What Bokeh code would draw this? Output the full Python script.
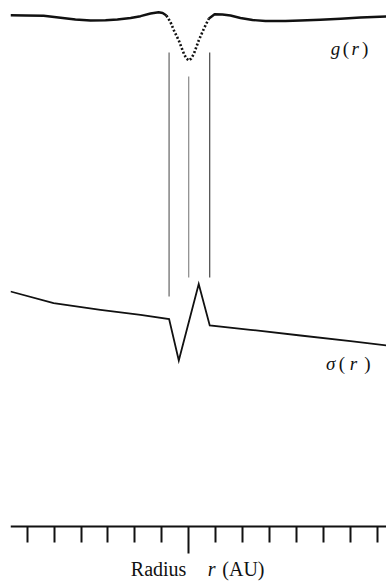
from bokeh.plotting import figure
from bokeh.models import Range1d, LinearAxis, FixedTicker, ColumnDataSource
from bokeh.core.properties import value
from bokeh.embed import file_html
from bokeh.resources import INLINE

# ---------------- data ----------------
# gap-opening function g(r)
r_g = [0.38, 0.94, 1.61, 2.24, 2.79, 3.35, 3.91, 4.35, 4.84, 5.21, 5.58, 5.88,
       6.03, 6.17, 6.32, 6.45, 6.63, 6.82, 6.91, 7.00, 7.09, 7.19, 7.37, 7.56,
       7.74, 7.96, 8.25, 8.55, 8.92, 9.37, 9.85, 10.59, 11.15, 11.89, 12.64,
       13.38, 14.35]
g_vals = [1.006, 1.000, 0.994, 0.954, 0.920, 0.900, 0.904, 0.920, 0.950, 0.986,
          1.040, 1.066, 1.050, 1.000, 0.870, 0.700, 0.500, 0.234, 0.140, 0.100,
          0.140, 0.234, 0.500, 0.734, 0.934, 1.024, 1.020, 1.000, 0.950, 0.910,
          0.890, 0.890, 0.900, 0.916, 0.934, 0.960, 0.980]

# surface density sigma(r)
r_sigma = [0.38, 1.98, 3.72, 5.21, 6.27, 6.63, 7.37, 7.78, 9.29, 11.15, 13.01, 14.35]
sigma_vals = [1.09, 0.973, 0.907, 0.857, 0.815, 0.40, 1.165, 0.75, 0.707, 0.65,
              0.593, 0.55]

# gap edge / planet markers
gap_r = [6.27, 7.00, 7.78]

# ticks on the radius axis
major_tick_r = [7]
minor_tick_r = [1, 2, 3, 4, 5, 6, 8, 9, 10, 11, 12, 13, 14]

# labels
x_label_parts = ["Radius", "r", "(AU)"]
g_label_parts = ["g", "(", "r", ")"]
s_label_parts = ["\u03c3", "(", "r", ")"]

# ---------------- figure ----------------
W, H = 386, 583
p = figure(width=W, height=H, output_backend="svg", toolbar_location=None,
           tools="", title=None, x_axis_type=None, y_axis_type=None,
           x_range=Range1d(0.3789, 14.345), y_range=Range1d(0, 583),
           min_border_left=10, min_border_right=0, min_border_top=0,
           min_border_bottom=0)
p.outline_line_color = None
p.background_fill_color = "white"
p.border_fill_color = "white"
p.extra_y_ranges = {"g": Range1d(-10.36, 1.3), "sigma": Range1d(-1.83, 4.0)}

INK = "#111111"

# g(r): solid outside the gap, dotted inside
ia = r_g.index(6.17)
ib = r_g.index(7.74)
p.line(r_g[:ia + 1], g_vals[:ia + 1], y_range_name="g", line_color=INK,
       line_width=2.4, line_join="round")
p.line(r_g[ia:ib + 1], g_vals[ia:ib + 1], y_range_name="g", line_color=INK,
       line_width=2.6, line_dash="2 2")
p.line(r_g[ib:], g_vals[ib:], y_range_name="g", line_color=INK,
       line_width=2.4, line_join="round")

# sigma(r)
p.line(r_sigma, sigma_vals, y_range_name="sigma", line_color=INK,
       line_width=1.8, line_join="miter")

# vertical marker lines
seg = ColumnDataSource(dict(x=gap_r, y0=[287, 306, 306], y1=[531, 507, 531],
                            c=["#8a8a8a", "#707070", "#222222"],
                            w=[1.6, 1.0, 1.0]))
p.segment(x0="x", y0="y0", x1="x", y1="y1", source=seg, line_color="c",
          line_width="w")

# radius axis
ax = LinearAxis(fixed_location=57.5,
                ticker=FixedTicker(ticks=major_tick_r, minor_ticks=minor_tick_r),
                major_tick_in=0, major_tick_out=27,
                minor_tick_in=0, minor_tick_out=16,
                axis_line_width=2, major_tick_line_width=2,
                minor_tick_line_width=2,
                axis_line_color=INK, major_tick_line_color=INK,
                minor_tick_line_color=INK,
                major_label_overrides={7: ""},
                major_label_text_font_size="0px")
p.add_layout(ax, "below")

FONT = value("Liberation Serif")

# axis title pieces (centres at x = 158, 211, 243 px)
p.text(x=[5.88, 7.85, 9.03], y=[15, 15, 15], text=x_label_parts,
       text_font=FONT, text_font_size="20px", text_color=INK,
       text_align="center", text_baseline="alphabetic",
       text_font_style=["normal", "italic", "normal"])

# curve labels
p.text(x=[12.45, 12.84, 13.18, 13.55], y=[535] * 4, text=g_label_parts,
       text_font=FONT, text_font_size="19px", text_color=INK,
       text_align="center", text_baseline="alphabetic",
       text_font_style=["italic", "normal", "italic", "normal"])
p.text(x=[12.27, 12.69, 13.12, 13.64], y=[220] * 4, text=s_label_parts,
       text_font=FONT, text_font_size="19px", text_color=INK,
       text_align="center", text_baseline="alphabetic",
       text_font_style=["italic", "normal", "italic", "normal"])

open("out.html", "w").write(file_html(p, INLINE))
